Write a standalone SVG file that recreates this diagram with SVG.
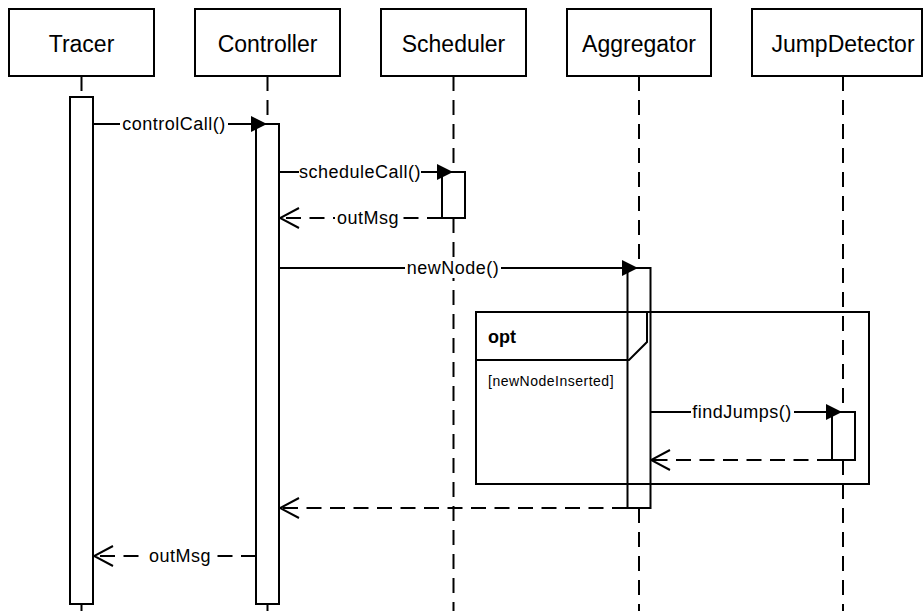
<svg xmlns="http://www.w3.org/2000/svg" width="924" height="611" viewBox="0 0 924 611">
<style>
.box{fill:#fff;stroke:#000;stroke-width:2}
.act{fill:#fff;stroke:#000;stroke-width:2}
.ll{stroke:#000;stroke-width:2;stroke-dasharray:15 9;fill:none}
.solid{stroke:#000;stroke-width:2;fill:none}
.msg{stroke:#000;stroke-width:2;fill:none}
.ret{stroke:#000;stroke-width:2;fill:none;stroke-dasharray:15 8.5}
.head{font-family:"Liberation Sans",Arial,sans-serif;font-size:23px;text-anchor:middle;fill:#000}
.lbl{font-family:"Liberation Sans",Arial,sans-serif;font-size:18px;letter-spacing:0.5px;text-anchor:middle;fill:#000}
.bg{fill:#fff}
.frame{fill:none;stroke:#000;stroke-width:2}
</style>
<defs>
<marker id="fill" markerUnits="userSpaceOnUse" markerWidth="18" markerHeight="18" viewBox="-17 -9 18 18" refX="0" refY="0" orient="auto"><path d="M0,0 L-16,-8 L-16,8 Z" fill="#000"/></marker>
<marker id="open" markerUnits="userSpaceOnUse" markerWidth="22" markerHeight="24" viewBox="-21 -12 22 24" refX="0" refY="0" orient="auto"><path d="M-19,-10 L0,0 L-19,10" fill="none" stroke="#000" stroke-width="2"/></marker>
</defs>
<rect width="924" height="611" fill="#fff"/>
<g id="lifelines">
<line class="ll" x1="81.5" y1="76" x2="81.5" y2="97"/>
<line class="solid" x1="81.5" y1="604" x2="81.5" y2="611"/>
<line class="ll" x1="267.5" y1="76" x2="267.5" y2="124"/>
<line class="solid" x1="267.5" y1="604" x2="267.5" y2="611"/>
<line class="ll" x1="453.5" y1="76" x2="453.5" y2="172"/>
<line class="ll" x1="453.5" y1="218" x2="453.5" y2="611"/>
<line class="ll" x1="639" y1="76" x2="639" y2="268"/>
<line class="ll" x1="639" y1="508" x2="639" y2="611"/>
<line class="ll" x1="843" y1="76" x2="843" y2="412"/>
<line class="ll" x1="843" y1="460" x2="843" y2="611"/>
</g>
<g id="Tracer">
<rect class="box" x="9" y="9" width="145" height="67"/>
<text class="head" x="81.5" y="52">Tracer</text>
<rect class="act" x="70" y="97" width="23" height="507"/>
</g>
<g id="Controller">
<rect class="box" x="195" y="9" width="145" height="67"/>
<text class="head" x="267.5" y="52">Controller</text>
<rect class="act" x="256" y="124" width="23" height="480"/>
</g>
<g id="Scheduler">
<rect class="box" x="381" y="9" width="145" height="67"/>
<text class="head" x="453.5" y="52">Scheduler</text>
<rect class="act" x="442" y="172" width="23" height="46"/>
</g>
<g id="Aggregator">
<rect class="box" x="567" y="9" width="144" height="67"/>
<text class="head" x="639" y="52">Aggregator</text>
<rect class="act" x="627.5" y="268" width="23" height="240"/>
</g>
<g id="JumpDetector">
<rect class="box" x="752" y="9" width="170" height="67"/>
<text class="head" x="843" y="52">JumpDetector</text>
<rect class="act" x="832" y="412" width="23" height="48"/>
</g>
<g id="opt-frame">
<rect class="frame" x="476" y="312" width="393" height="172"/>
<path class="frame" d="M476,360 H629 L647,342 V312"/>
<text x="488" y="343" font-family="'Liberation Sans',Arial,sans-serif" font-size="18" font-weight="bold">opt</text>
<text x="488" y="386" font-family="'Liberation Sans',Arial,sans-serif" font-size="14" letter-spacing="0.5">[newNodeInserted]</text>
</g>
<g id="connectors">
<line class="msg" x1="93" y1="124" x2="267" y2="124" marker-end="url(#fill)"/>
<rect class="bg" x="120" y="114" width="108" height="20"/>
<text class="lbl" x="174" y="130">controlCall()</text>
<line class="msg" x1="279" y1="172" x2="453" y2="172" marker-end="url(#fill)"/>
<rect class="bg" x="299" y="162" width="122" height="20"/>
<text class="lbl" x="360" y="178">scheduleCall()</text>
<line class="ret" x1="442" y1="218" x2="280" y2="218" marker-end="url(#open)"/>
<rect class="bg" x="335" y="208" width="67" height="20"/>
<text class="lbl" x="368" y="224">outMsg</text>
<line class="msg" x1="279" y1="268" x2="638" y2="268" marker-end="url(#fill)"/>
<rect class="bg" x="405" y="258" width="96" height="20"/>
<text class="lbl" x="453" y="274">newNode()</text>
<line class="msg" x1="651" y1="412" x2="842" y2="412" marker-end="url(#fill)"/>
<rect class="bg" x="691" y="402" width="103" height="20"/>
<text class="lbl" x="742" y="418">findJumps()</text>
<line class="ret" x1="832" y1="460" x2="651" y2="460" marker-end="url(#open)"/>
<line class="ret" x1="627" y1="508" x2="280" y2="508" marker-end="url(#open)"/>
<line class="ret" x1="256" y1="556" x2="94" y2="556" marker-end="url(#open)"/>
<rect class="bg" x="147" y="546" width="67" height="20"/>
<text class="lbl" x="180" y="562">outMsg</text>
</g>
</svg>
